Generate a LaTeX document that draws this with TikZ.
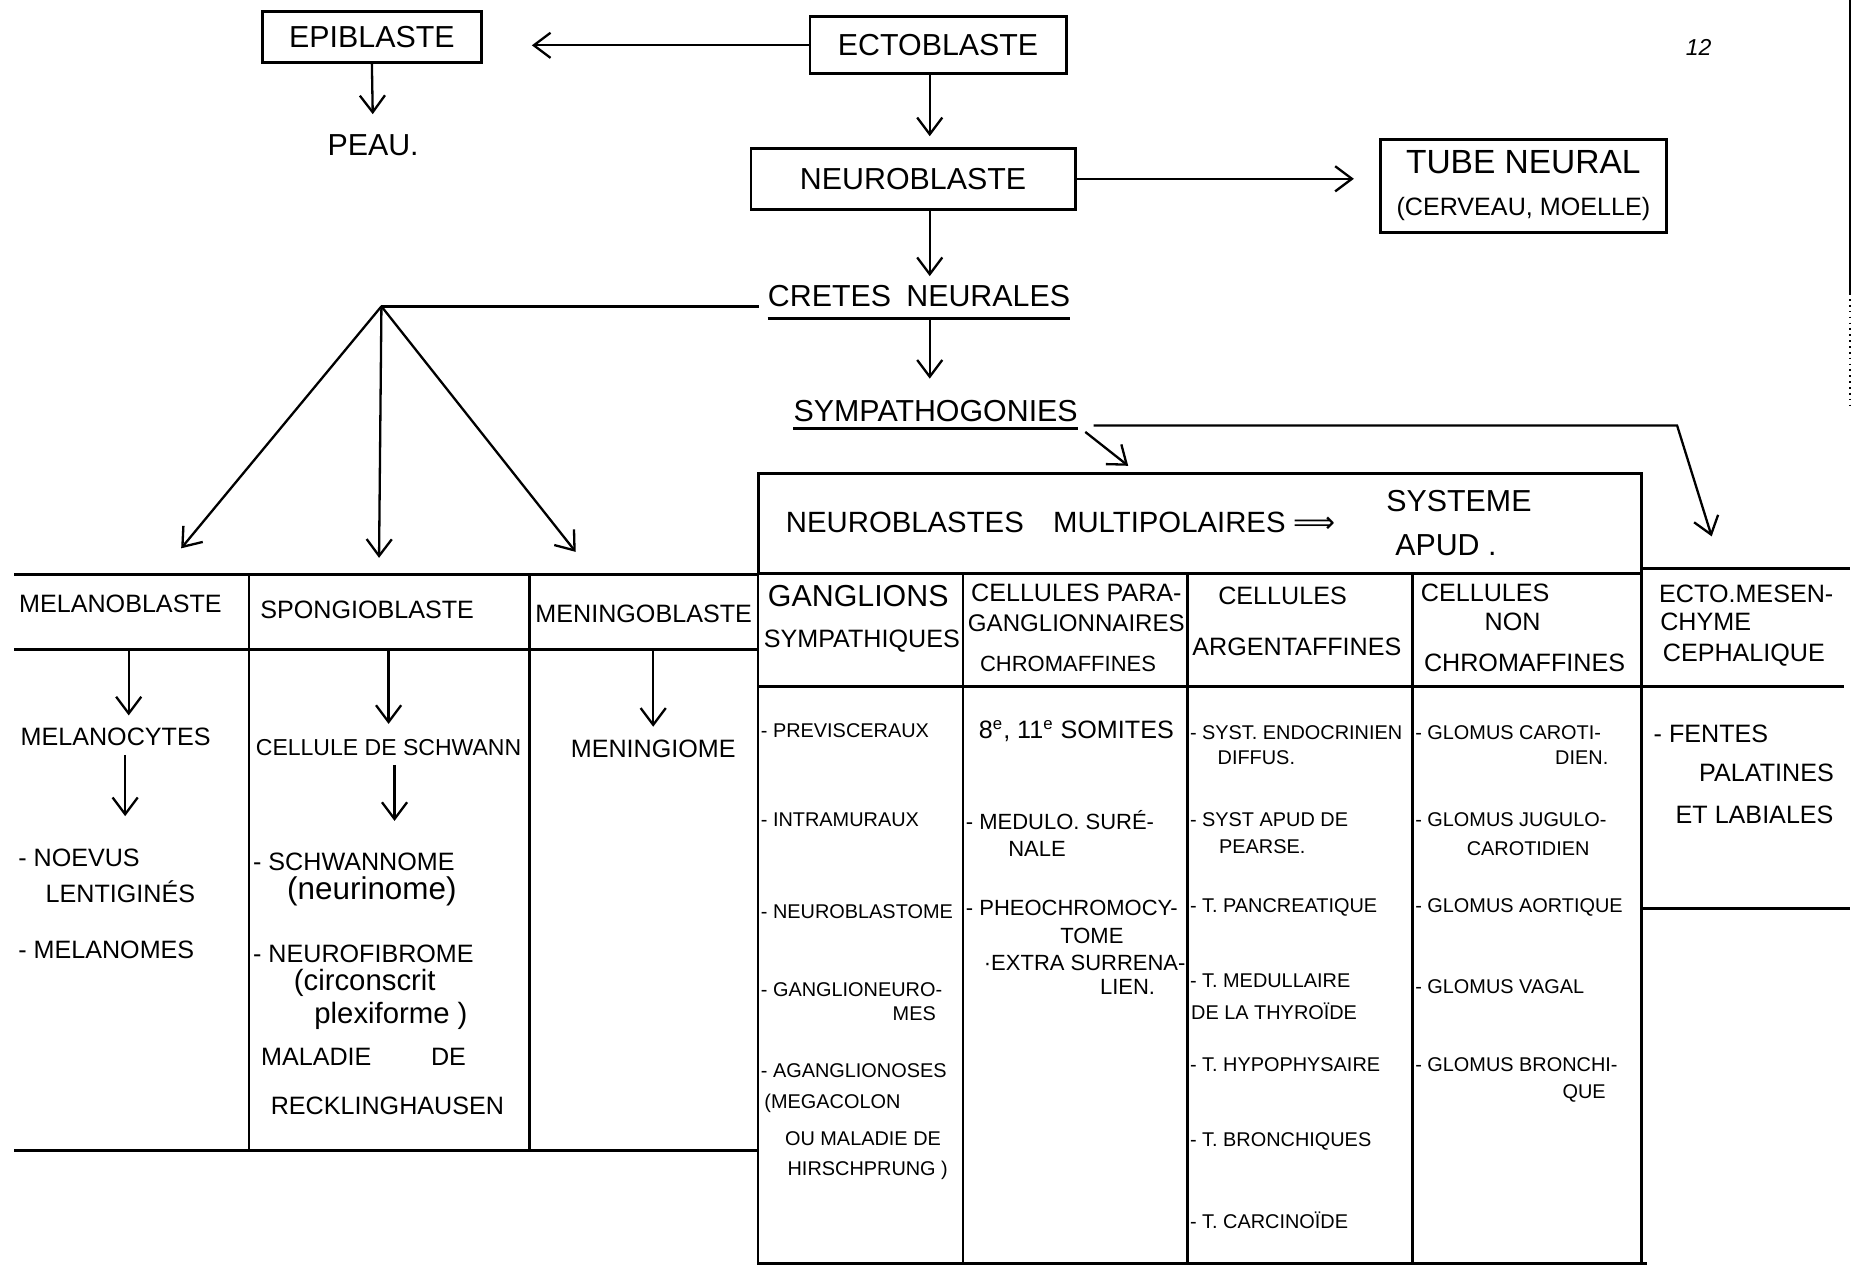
\documentclass[tikz,border=0pt]{standalone}
\usepackage{fontspec}
\setmainfont{Liberation Sans}
\newfontfamily\handfont{Liberation Sans}
\newfontfamily\symbfont{DejaVu Sans}
\newcommand{\fntbox}{\handfont\fontsize{14.5}{17}\selectfont}
\newcommand{\fnthead}{\handfont\fontsize{12}{14}\selectfont}
\newcommand{\fntmid}{\handfont\fontsize{10.5}{12}\selectfont}
\newcommand{\fntitem}{\handfont\fontsize{9.5}{11}\selectfont}
\newcommand{\fntlow}{\handfont\fontsize{14}{16}\selectfont}
\usetikzlibrary{
	arrows.meta,
	positioning
}
\tikzset{
	>={Straight Barb[length=8pt,width=12pt]},
	flow/.style={->, line width=1.1pt},
	rule/.style={line width=1.3pt},
	blockbox/.style={draw, line width=1.4pt, inner sep=0pt, font=\fntbox},
	biglabel/.style={inner sep=0pt, font=\fntbox},
	headlabel/.style={inner sep=0pt, font=\fnthead},
	entry/.style={inner sep=0pt, font=\fntitem, anchor=west},
	subentry/.style={inner sep=0pt, font=\fntitem}
}

\begin{document}
\begin{tikzpicture}[x=0.02cm, y=-0.02cm]
	\useasboundingbox (0,0) rectangle (1568,1062);
	% upper part of the tree
	\node[blockbox, minimum width=3.68cm, minimum height=0.86cm] (epi) at (312,31) {EPIBLASTE};
	\node[blockbox, minimum width=4.3cm, minimum height=0.96cm] (ecto) at (787,38) {ECTOBLASTE};
	\node[blockbox, minimum width=5.44cm, minimum height=1.02cm] (neuro) at (766,150) {NEUROBLASTE};
	\node[blockbox, minimum width=4.8cm, minimum height=1.56cm, align=center] (tube) at (1278,156)
		{{\handfont\fontsize{16}{18}\selectfont TUBE NEURAL}\\[3pt]{\fnthead (CERVEAU, MOELLE)}};
	\node[biglabel] (peau) at (313,122) {PEAU.};
	\node[biglabel] (cretes) at (771,248) {CRETES\enspace NEURALES};
	\node[biglabel] (sympa) at (785,345) {SYMPATHOGONIES};
	\node[inner sep=0pt, font=\handfont\itshape\fontsize{11}{13}\selectfont] (pagenum) at (1425,40) {12};

	\coordinate (spine) at (780,0);
	\coordinate (apex) at (320,257);
	\coordinate (tipmela) at (152,460);
	\coordinate (tipspon) at (318,468);
	\coordinate (tipmeni) at (483,463);
	\coordinate (bend) at (1407,357);
	\coordinate (tipecto) at (1436,450);

	\draw[flow] (ecto.west) -- ([xshift=0.82cm]ecto.west -| epi.east);
	\draw[flow, shorten >=0.34cm] (epi.south) -- (peau.north);
	\draw[flow, shorten >=0.18cm] (ecto.south -| spine) -- (neuro.north -| spine);
	\draw[flow] (neuro.east) -- ([xshift=-0.42cm]neuro.east -| tube.west);
	\draw[flow, shorten >=0.14cm] (neuro.south -| spine) -- (cretes.north -| spine);
	\draw[rule] ([yshift=-0.2cm]cretes.south west) -- ([yshift=-0.2cm]cretes.south east);
	\draw[rule] ([xshift=-0.15cm]apex -| cretes.west) -- (apex);
	\foreach \tip in {tipmela,tipspon,tipmeni}
		\draw[flow] (apex) -- (\tip);
	\draw[flow, shorten >=0.36cm] ([yshift=-0.2cm]cretes.south -| spine) -- (sympa.north -| spine);
	\draw[rule] ([yshift=-0.1cm]sympa.south west) -- ([yshift=-0.1cm]sympa.south east);

	% table of the sympathogonies
	\node[draw, line width=1.4pt, minimum width=14.82cm, minimum height=1.68cm, inner sep=0pt] (apudhead) at (1006.5,439) {};
	\node[inner sep=0pt, font=\handfont\fontsize{14}{16}\selectfont] (multi) at (890,438) {NEUROBLASTES\quad MULTIPOLAIRES {\symbfont ⟹}};
	\node[biglabel] (systeme) at (1224,420) {SYSTEME};
	\node[biglabel] (apudlbl) at (1213,457) {APUD .};
	\draw[flow] ([xshift=0.12cm, yshift=-0.16cm]sympa.south east) -- ([xshift=-1.2cm, yshift=0.1cm]apudhead.north);
	\draw[flow] ([xshift=0.26cm]sympa.east |- bend) -- (bend) -- (tipecto);

	\draw[rule] (636,481) -- (636,1060) -- (1382,1060);
	\draw[rule] (1377,481) -- (1377,1060);
	\draw[rule] (636,576) -- (1377,576);
	\foreach \x in {808,996,1185}
		\draw[rule] (\x,481) -- (\x,1060);
	\draw[rule] (1377,477) -- (1552,477) (1377,576) -- (1547,576) (1377,762) -- (1552,762);

	% left table
	\draw[rule] (12,482) -- (636,482) (12,545) -- (636,545) (12,965) -- (636,965);
	\foreach \x in {209,444}
		\draw[rule] (\x,482) -- (\x,965);

	% left columns
	\node[headlabel] (melab) at (101,507) {MELANOBLASTE};
	\node[headlabel] (spongb) at (308,512) {SPONGIOBLASTE};
	\node[headlabel] (meninb) at (540,515) {MENINGOBLASTE};
	\node[headlabel] (melac) at (97,618) {MELANOCYTES};
	\node[headlabel, font=\handfont\fontsize{11}{13}\selectfont] (schwann) at (326,627) {CELLULE DE SCHWANN};
	\node[headlabel] (meningiome) at (548,628) {MENINGIOME};
	\node[headlabel, anchor=west] (noevus) at (15,720) {- NOEVUS};
	\node[headlabel] (lenti) at (101,748) {LENTIGINÉS};
	\node[headlabel, anchor=west] (melanomes) at (15,797) {- MELANOMES};
	\node[headlabel, anchor=west] (schwannome) at (212,723) {- SCHWANNOME};
	\node[inner sep=0pt, font=\handfont\fontsize{15}{17}\selectfont] (neurinome) at (312,748) {(neurinome)};
	\node[headlabel, anchor=west] (neurofib) at (212,800) {- NEUROFIBROME};
	\node[inner sep=0pt, font=\fntlow] (circons) at (306,825) {(circonscrit};
	\node[inner sep=0pt, font=\fntlow] (plexi) at (328,852) {plexiforme )};
	\node[headlabel] (maladie) at (305,887) {MALADIE\hspace{1cm}DE};
	\node[headlabel] (reckling) at (325,928) {RECKLINGHAUSEN};

	\draw[flow, shorten <=0.6cm, shorten >=0.2cm] ([xshift=0.22cm]melac.north |- melab.south) -- ([xshift=0.22cm]melac.north);
	\draw[flow, shorten <=0.15cm, shorten >=0.55cm] ([xshift=0.16cm]melac.south) -- ([xshift=0.16cm]melac.south |- noevus.north);
	\draw[flow, shorten <=0.51cm, shorten >=0.25cm] (schwann.north |- spongb.south) -- (schwann.north);
	\draw[flow, shorten <=0.15cm, shorten >=0.53cm] ([xshift=0.1cm]schwann.south) -- ([xshift=0.1cm]schwann.south |- schwannome.north);
	\draw[flow, shorten <=0.45cm, shorten >=0.21cm] (meningiome.north |- meninb.south) -- (meningiome.north);

	% column heads of the table
	\node[headlabel, font=\fntbox] (ha1) at (720,500) {GANGLIONS};
	\node[headlabel] (ha2) at (723,538) {SYMPATHIQUES};
	\node[headlabel] (hb1) at (903,497) {CELLULES PARA-};
	\node[headlabel, font=\handfont\fontsize{11.5}{13}\selectfont] (hb2) at (903,523) {GANGLIONNAIRES};
	\node[headlabel, font=\fntmid] (hb3) at (896,557) {CHROMAFFINES};
	\node[headlabel] (hc1) at (1076,500) {CELLULES};
	\node[headlabel] (hc2) at (1088,543) {ARGENTAFFINES};
	\node[headlabel] (hd1) at (1246,497) {CELLULES};
	\node[headlabel] (hd2) at (1269,522) {NON};
	\node[headlabel] (hd3) at (1279,556) {CHROMAFFINES};
	\node[headlabel] (he1) at (1465,498) {ECTO.MESEN-};
	\node[headlabel] (he2) at (1431,522) {CHYME};
	\node[headlabel] (he3) at (1463,550) {CEPHALIQUE};

	% ganglions sympathiques
	\foreach \y/\lbl [count=\i] in {613/PREVISCERAUX, 688/INTRAMURAUX, 765/NEUROBLASTOME, 830/GANGLIONEURO-, 898/AGANGLIONOSES}
		\node[entry] (ga\i) at (638,\y) {- \lbl};
	\node[subentry] (ga6) at (767,850) {MES};
	\node[entry] (ga7) at (641,926) {(MEGACOLON};
	\node[subentry] (ga8) at (724,955) {OU MALADIE DE};
	\node[subentry] (ga9) at (728,982) {HIRSCHPRUNG )};

	% cellules paraganglionnaires
	\node[headlabel] (gb1) at (903,613) {8\textsuperscript{e}, 11\textsuperscript{e} SOMITES};
	\node[entry, font=\fntmid] (gb2) at (810,688) {- MEDULO. SURÉ-};
	\node[subentry, font=\fntmid] (gb3) at (870,712) {NALE};
	\node[entry, font=\fntmid] (gb4) at (810,762) {- PHEOCHROMOCY-};
	\node[subentry, font=\fntmid] (gb5) at (916,785) {TOME};
	\node[subentry, font=\fntmid] (gb6) at (910,808) {·EXTRA SURRENA-};
	\node[subentry, font=\fntmid] (gb7) at (946,828) {LIEN.};

	% cellules argentaffines
	\foreach \y/\lbl [count=\i] in {615/{SYST. ENDOCRINIEN}, 688/{SYST APUD DE}, 761/{T. PANCREATIQUE}, 823/{T. MEDULLAIRE}, 893/{T. HYPOPHYSAIRE}, 958/{T. BRONCHIQUES}, 1024/{T. CARCINOÏDE}}
		\node[entry] (gc\i) at (998,\y) {- \lbl};
	\node[subentry] (gc8) at (1054,636) {DIFFUS.};
	\node[subentry] (gc9) at (1059,710) {PEARSE.};
	\node[entry] (gc10) at (999,848) {DE LA THYROÏDE};

	% cellules non chromaffines
	\foreach \y/\lbl [count=\i] in {615/{GLOMUS CAROTI-}, 688/{GLOMUS JUGULO-}, 761/{GLOMUS AORTIQUE}, 828/{GLOMUS VAGAL}, 893/{GLOMUS BRONCHI-}}
		\node[entry] (gd\i) at (1187,\y) {- \lbl};
	\node[subentry] (gd6) at (1327,636) {DIEN.};
	\node[subentry] (gd7) at (1282,712) {CAROTIDIEN};
	\node[subentry] (gd8) at (1329,917) {QUE};

	% ecto-mesenchyme
	\node[headlabel, anchor=west] (ge1) at (1387,616) {- FENTES};
	\node[headlabel] (ge2) at (1482,648) {PALATINES};
	\node[headlabel] (ge3) at (1472,684) {ET LABIALES};

	% edge of the scanned page
	\draw[line width=0.8pt] (1552,0) -- (1552,246);
	\draw[line width=0.8pt, dotted] (1552,246) -- (1552,340);
\end{tikzpicture}
\end{document}
